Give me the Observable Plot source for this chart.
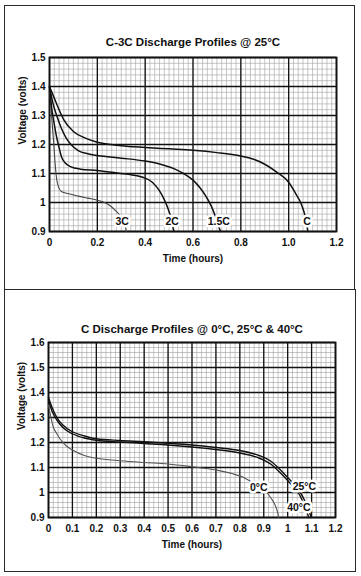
<!DOCTYPE html>
<html><head><meta charset="utf-8">
<script src="https://cdn.jsdelivr.net/npm/d3@7"></script>
<script src="https://cdn.jsdelivr.net/npm/@observablehq/plot@0.6"></script>
<style>
body{margin:0;background:#fff;font-family:"Liberation Sans",Arial,sans-serif;}
#page{position:relative;width:361px;height:576px;overflow:hidden;background:#fff}
.box{position:absolute;border:1.5px solid #2a2a2a;box-sizing:border-box;pointer-events:none}
.chart{position:absolute;left:0}
</style></head><body><div id="page">
<div class="chart" id="c1" style="top:0"></div>
<div class="chart" id="c2" style="top:290px"></div>
<div class="box" style="left:4px;top:5px;width:351px;height:285px"></div>
<div class="box" style="left:4px;top:289px;width:352px;height:283px"></div>
</div>
<script>
// ---------- text ----------
const topTitle = "C-3C Discharge Profiles @ 25°C";
const bottomTitle = "C Discharge Profiles @ 0°C, 25°C & 40°C";
const yAxisLabel = "Voltage (volts)";
const xAxisLabel = "Time (hours)";

// ---------- ticks ----------
const topXTicks = [0, 0.2, 0.4, 0.6, 0.8, 1.0, 1.2];
const topXTickLabels = ["0", "0.2", "0.4", "0.6", "0.8", "1.0", "1.2"];
const topYTicks = [0.9, 1.0, 1.1, 1.2, 1.3, 1.4, 1.5];
const topYTickLabels = ["0.9", "1", "1.1", "1.2", "1.3", "1.4", "1.5"];
const bottomXTicks = [0, 0.1, 0.2, 0.3, 0.4, 0.5, 0.6, 0.7, 0.8, 0.9, 1.0, 1.1, 1.2];
const bottomXTickLabels = ["0", "0.1", "0.2", "0.3", "0.4", "0.5", "0.6", "0.7", "0.8", "0.9", "1", "1.1", "1.2"];
const bottomYTicks = [0.9, 1.0, 1.1, 1.2, 1.3, 1.4, 1.5, 1.6];
const bottomYTickLabels = ["0.9", "1", "1.1", "1.2", "1.3", "1.4", "1.5", "1.6"];

// ---------- top chart series (time h, volts) ----------
const topSeriesNames = ["3C", "2C", "1.5C", "C"];
const curve3C = [[0,1.4],[0.006,1.33],[0.012,1.265],[0.018,1.2],[0.024,1.13],[0.03,1.08],[0.038,1.052],[0.05,1.038],[0.08,1.03],[0.12,1.022],[0.16,1.015],[0.2,1.008],[0.23,1.0],[0.255,0.988],[0.275,0.973],[0.29,0.96],[0.305,0.94],[0.315,0.92],[0.322,0.9]];
const curve2C = [[0,1.4],[0.01,1.32],[0.02,1.27],[0.03,1.225],[0.04,1.19],[0.05,1.158],[0.065,1.137],[0.09,1.123],[0.13,1.115],[0.2,1.11],[0.26,1.104],[0.33,1.097],[0.39,1.087],[0.43,1.07],[0.46,1.04],[0.48,1.01],[0.495,0.98],[0.505,0.955],[0.512,0.93],[0.52,0.9]];
const curve15C = [[0,1.4],[0.015,1.34],[0.03,1.3],[0.05,1.255],[0.07,1.222],[0.09,1.2],[0.12,1.179],[0.16,1.168],[0.2,1.162],[0.3,1.153],[0.4,1.143],[0.46,1.133],[0.52,1.117],[0.56,1.1],[0.6,1.077],[0.63,1.05],[0.655,1.02],[0.675,0.99],[0.69,0.96],[0.702,0.93],[0.715,0.9]];
const curveC = [[0,1.4],[0.02,1.36],[0.04,1.32],[0.06,1.285],[0.1,1.245],[0.15,1.222],[0.2,1.208],[0.3,1.196],[0.4,1.19],[0.5,1.185],[0.6,1.18],[0.7,1.172],[0.8,1.16],[0.85,1.15],[0.9,1.132],[0.95,1.105],[1.0,1.07],[1.03,1.03],[1.05,1.0],[1.065,0.965],[1.075,0.93],[1.08,0.9]];
const topLabelT = [0.304, 0.513, 0.708, 1.077];
const topLabelV = [0.934, 0.934, 0.934, 0.934];

// ---------- bottom chart series ----------
const bottomSeriesNames = ["0°C", "25°C", "40°C"];
const curve0 = [[0,1.35],[0.01,1.3],[0.02,1.262],[0.035,1.235],[0.05,1.212],[0.075,1.186],[0.1,1.17],[0.15,1.148],[0.2,1.137],[0.3,1.127],[0.4,1.12],[0.5,1.114],[0.6,1.103],[0.7,1.09],[0.77,1.075],[0.82,1.058],[0.86,1.035],[0.89,1.015],[0.915,0.998],[0.93,0.978],[0.945,0.955],[0.955,0.93],[0.963,0.9]];
const curve25 = [[0,1.38],[0.015,1.34],[0.035,1.3],[0.06,1.27],[0.1,1.243],[0.15,1.226],[0.2,1.215],[0.3,1.208],[0.4,1.203],[0.5,1.197],[0.6,1.19],[0.7,1.18],[0.8,1.168],[0.88,1.148],[0.93,1.125],[0.97,1.09],[1.0,1.06],[1.03,1.03],[1.05,1.005],[1.07,0.97],[1.085,0.94],[1.098,0.9]];
const curve40 = [[0,1.37],[0.015,1.325],[0.035,1.29],[0.06,1.26],[0.1,1.235],[0.15,1.218],[0.2,1.209],[0.3,1.202],[0.4,1.196],[0.5,1.19],[0.6,1.182],[0.7,1.172],[0.8,1.158],[0.88,1.138],[0.93,1.113],[0.97,1.078],[1.0,1.048],[1.03,1.015],[1.05,0.99],[1.065,0.96],[1.078,0.93],[1.088,0.9]];
const bottomLabelT = [0.879, 1.07, 1.047];
const bottomLabelV = [1.02, 1.022, 0.94];

function makeChart(o) {
  const labelData = o.names.map((n, i) => ({n, t: o.labelT[i], v: o.labelV[i]}));
  const minorX = d3.range(0, Math.round(o.xDomain[1] / 0.02) + 1).map(i => +(i * 0.02).toFixed(2));
  const minorY = d3.range(Math.round(o.yDomain[0] / 0.02), Math.round(o.yDomain[1] / 0.02) + 1).map(i => +(i * 0.02).toFixed(2));
  const font = {fontFamily: "Liberation Sans, Arial, sans-serif", fontWeight: "bold"};
  const marks = [
    Plot.ruleX(minorX, {stroke: "#a0a0a0", strokeWidth: 0.6}),
    Plot.ruleY(minorY, {stroke: "#a0a0a0", strokeWidth: 0.6}),
    Plot.ruleX(o.xTicks, {stroke: "#111", strokeWidth: 1.3}),
    Plot.ruleY(o.yTicks, {stroke: "#111", strokeWidth: 1.3}),
    Plot.frame({stroke: "#111", strokeWidth: 1.8})
  ];
  o.curves.forEach((c, i) => {
    marks.push(Plot.line(c, {x: d => d[0], y: d => d[1], stroke: o.colors[i], strokeWidth: o.widths[i], curve: "monotone-x"}));
  });
  marks.push(
    Plot.text(labelData, {x: "t", y: "v", text: "n", fontSize: 10.5, ...font, fill: "#111", stroke: "white", strokeWidth: 5}),
    Plot.axisX(o.xTicks, {tickSize: 0, tickPadding: 7, fontSize: 10, ...font, fill: "#111", label: null,
      tickFormat: d => o.xTickLabels[o.xTicks.indexOf(d)]}),
    Plot.axisY(o.yTicks, {tickSize: 0, tickPadding: 4, fontSize: 10, ...font, fill: "#111", label: null,
      tickFormat: d => o.yTickLabels[o.yTicks.indexOf(d)]}),
    Plot.text([o.title], {frameAnchor: "top", dy: o.titleDy, fontSize: 11.5, ...font, fill: "#111"}),
    Plot.text([xAxisLabel], {frameAnchor: "bottom", dy: 30, fontSize: 10, ...font, fill: "#111"}),
    Plot.text([yAxisLabel], {frameAnchor: "left", dx: -27, rotate: -90, fontSize: 10, ...font, fill: "#111"})
  );
  return Plot.plot({
    width: 361, height: o.height,
    marginLeft: o.m[3], marginRight: o.m[1], marginTop: o.m[0], marginBottom: o.m[2],
    x: {domain: o.xDomain, axis: null},
    y: {domain: o.yDomain, axis: null},
    style: {background: "transparent", overflow: "visible"},
    marks
  });
}

document.getElementById("c1").appendChild(makeChart({
  title: topTitle, titleDy: -20, height: 290, m: [57, 25, 59, 49],
  xDomain: [0, 1.2], yDomain: [0.9, 1.5],
  xTicks: topXTicks, xTickLabels: topXTickLabels, yTicks: topYTicks, yTickLabels: topYTickLabels,
  names: topSeriesNames, labelT: topLabelT, labelV: topLabelV,
  curves: [curve3C, curve2C, curve15C, curveC],
  colors: ["#444", "#111", "#111", "#111"], widths: [1.1, 1.5, 1.5, 1.5]
}));

document.getElementById("c2").appendChild(makeChart({
  title: bottomTitle, titleDy: -18, height: 286, m: [52, 26, 59, 48],
  xDomain: [0, 1.2], yDomain: [0.9, 1.6],
  xTicks: bottomXTicks, xTickLabels: bottomXTickLabels, yTicks: bottomYTicks, yTickLabels: bottomYTickLabels,
  names: bottomSeriesNames, labelT: bottomLabelT, labelV: bottomLabelV,
  curves: [curve0, curve25, curve40],
  colors: ["#555", "#111", "#111"], widths: [1.1, 1.4, 1.4]
}));
</script>
</body></html>
